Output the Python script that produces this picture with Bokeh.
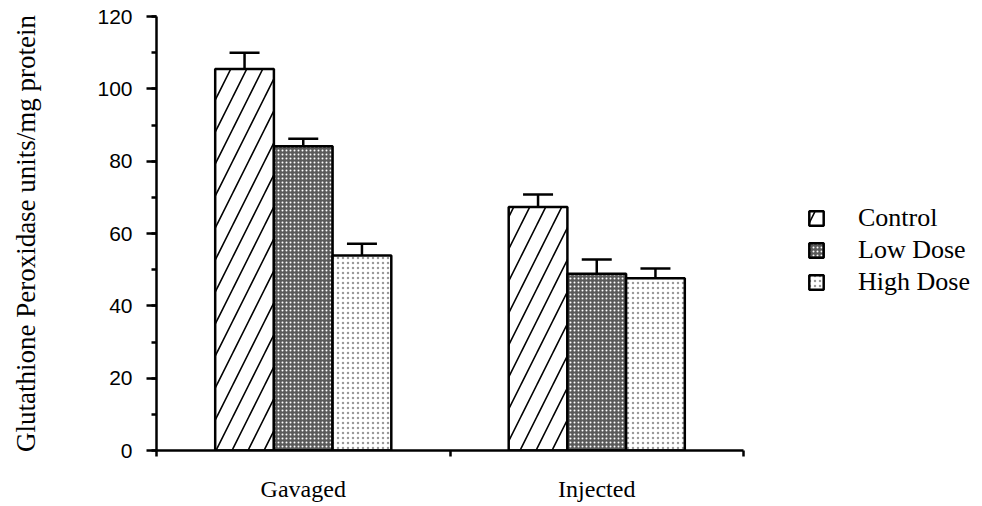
import numpy as np
from bokeh.plotting import figure
from bokeh.models import (ColumnDataSource, Range1d, FixedTicker, Whisker, TeeHead,
                          Legend, LegendItem)
from bokeh.embed import file_html
from bokeh.resources import INLINE

groups = ["Gavaged", "Injected"]
series = ["Control", "Low Dose", "High Dose"]
control = [105.5, 67.3]
control_err = [4.5, 3.5]
low_dose = [84.1, 48.9]
low_dose_err = [2.1, 3.9]
high_dose = [53.9, 47.6]
high_dose_err = [3.3, 2.7]
y_ticks = [0, 20, 40, 60, 80, 100, 120]
y_minor = [0, 10, 20, 30, 40, 50, 60, 70, 80, 90, 100, 110, 120]

SERIF = "Liberation Serif"
SANS = "Liberation Sans"

W, H = 974, 504
LEFT, TOP, BOTTOM = 156, 16, 54
frame_w = W - LEFT
x_axis_px = 587          # pixel length of the drawn x axis (0..2)
x_end = 2 * frame_w / x_axis_px

p = figure(width=W, height=H, output_backend="svg", toolbar_location=None,
           x_range=Range1d(0, x_end), y_range=Range1d(0, 120),
           min_border_left=LEFT, min_border_right=0, min_border_top=TOP, min_border_bottom=BOTTOM)
p.outline_line_color = None
p.xgrid.visible = False
p.ygrid.visible = False

centers = np.arange(len(groups)) + 0.5
offsets = [-0.2, 0.0, 0.2]
vals = [control, low_dose, high_dose]
errs = [control_err, low_dose_err, high_dose_err]
styles = [
    dict(fill_color="white", hatch_pattern="/", hatch_color="black", hatch_scale=32, hatch_weight=1.6),
    dict(fill_color="#5a5a5a", hatch_pattern="dot", hatch_color="white", hatch_scale=4, hatch_weight=2.0),
    dict(fill_color="white", hatch_pattern="dot", hatch_color="#9a9a9a", hatch_scale=5, hatch_weight=1.0),
]

items = []
for name, v, e, off, st in zip(series, vals, errs, offsets, styles):
    v = np.array(v)
    e = np.array(e)
    src = ColumnDataSource(dict(x=centers + off, top=v, upper=v + e, lower=v))
    r = p.vbar(x="x", top="top", width=0.2, source=src, line_color="black", line_width=2.5, **st)
    w = Whisker(base="x", upper="upper", lower="lower", source=src,
                upper_head=TeeHead(size=30, line_width=2.5, line_color="black"),
                lower_head=None, line_width=2.5, line_color="black", level="overlay")
    p.add_layout(w)
    items.append(LegendItem(label=name, renderers=[r]))

legend = Legend(items=items, location=(651, 153), orientation="vertical",
                glyph_width=18, glyph_height=18, label_standoff=33, spacing=2,
                label_height=28, padding=0, margin=0,
                border_line_color=None, background_fill_alpha=0,
                label_text_font=SERIF, label_text_font_size="26px", label_text_color="black")
p.add_layout(legend)

xa = p.xaxis[0]
xa.bounds = (0, 2)
xa.ticker = FixedTicker(ticks=list(centers), minor_ticks=[0, 1, 2])
xa.major_label_overrides = {float(c): g for c, g in zip(centers, groups)}
xa.major_tick_out = 0
xa.major_tick_in = 0
xa.minor_tick_out = 6
xa.minor_tick_in = 0
xa.minor_tick_line_width = 2.5
xa.axis_line_width = 2.5
xa.major_label_standoff = 19
xa.major_label_text_font = SERIF
xa.major_label_text_font_size = "24px"
xa.major_label_text_color = "black"

ya = p.yaxis[0]
ya.ticker = FixedTicker(ticks=y_ticks, minor_ticks=y_minor)
ya.major_tick_out = 10
ya.major_tick_in = 0
ya.minor_tick_out = 5
ya.minor_tick_in = 0
ya.major_tick_line_width = 2.5
ya.minor_tick_line_width = 2.5
ya.axis_line_width = 2.5
ya.major_label_standoff = 14
ya.major_label_text_font = SANS
ya.major_label_text_font_size = "21px"
ya.major_label_text_color = "black"
ya.axis_label = "Glutathione Peroxidase units/mg protein"
ya.axis_label_text_font = SERIF
ya.axis_label_text_font_style = "normal"
ya.axis_label_text_font_size = "27px"
ya.axis_label_text_color = "black"
ya.axis_label_standoff = 53

open("out.html", "w").write(file_html(p, INLINE))
